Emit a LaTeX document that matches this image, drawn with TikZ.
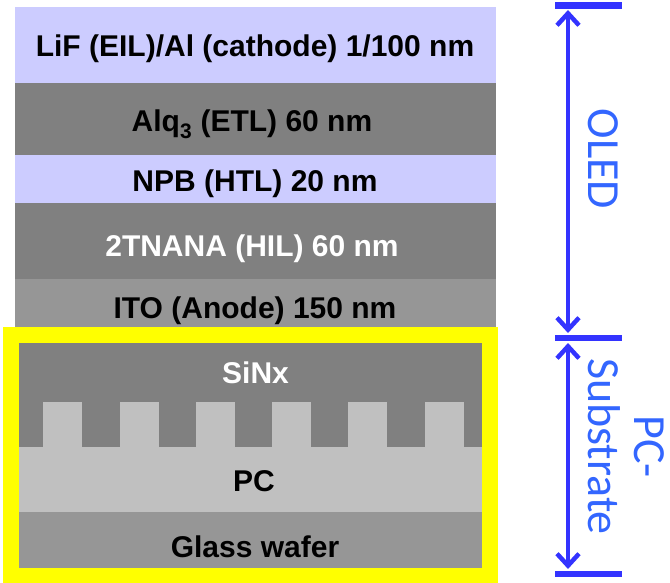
\documentclass[tikz,border=0pt]{standalone}
\usepackage{fontspec}
\setmainfont{Liberation Sans}
\newfontfamily\lblfont{Carlito}
\usetikzlibrary{arrows.meta}
\definecolor{lav}{RGB}{204,204,255}
\definecolor{dgray}{RGB}{128,128,128}
\definecolor{mgray}{RGB}{150,150,150}
\definecolor{lgray}{RGB}{192,192,192}
\definecolor{ylw}{RGB}{255,255,0}
\definecolor{dimblue}{RGB}{51,51,255}
\definecolor{txtblue}{RGB}{51,102,255}
\begin{document}
\begin{tikzpicture}[x=1pt,y=-1pt,
  layertext/.style={font=\fontsize{30}{36}\selectfont\bfseries, anchor=base, inner sep=0pt},
  dimbar/.style={draw=dimblue, line width=6.5pt},
  dimline/.style={draw=dimblue, line width=4.5pt,
    {Straight Barb[length=12pt,width=22pt]}-{Straight Barb[length=12pt,width=22pt]}},
  dimlabel/.style={text=txtblue, font=\lblfont\fontsize{46}{50}\selectfont, rotate=-90, anchor=base, inner sep=0pt}]
\useasboundingbox (0,0) rectangle (670,583);
\fill[white] (0,0) rectangle (670,583);
% OLED layers
\fill[lav]   (15,7)   rectangle (496,83);
\fill[dgray] (15,83)  rectangle (496,155);
\fill[lav]   (15,155) rectangle (496,203);
\fill[dgray] (15,203) rectangle (496,279);
\fill[mgray] (15,279) rectangle (496,336);
% substrate
\fill[dgray] (11,335) rectangle (489,447);
\foreach \x in {43,119.5,196,271.5,348,424.5}
  \fill[lgray] (\x,402) rectangle ++(39,45);
\fill[lgray] (11,447) rectangle (489,512);
\fill[mgray] (11,512) rectangle (489,576);
\draw[ylw, line width=16pt] (11,335) rectangle (489.5,576);
% layer labels
\node[layertext] (lif) at (255,57) {LiF (EIL)/Al (cathode) 1/100 nm};
\node[layertext] (alq) at (252,132) {Alq\textsubscript{3} (ETL) 60 nm};
\node[layertext] (npb) at (255,192) {NPB (HTL) 20 nm};
\node[layertext, text=white] (tnana) at (252,256) {2TNANA (HIL) 60 nm};
\node[layertext] (ito) at (255,318) {ITO (Anode) 150 nm};
\node[layertext, text=white] (sinx) at (255.5,383) {SiNx};
\node[layertext] (pc) at (254,491) {PC};
\node[layertext] (glass) at (255,557) {Glass wafer};
% dimension marks
\coordinate (tl) at (555,5.5);  \coordinate (tr) at (622,5.5);
\coordinate (ml) at (555,338);  \coordinate (mr) at (622,338);
\coordinate (bl) at (555,574);  \coordinate (br) at (622,574);
\coordinate (a1) at (568,10);   \coordinate (a2) at (568,333);
\coordinate (b1) at (568,343);  \coordinate (b2) at (568,569);
\draw[dimbar] (tl) -- (tr);
\draw[dimbar] (ml) -- (mr);
\draw[dimbar] (bl) -- (br);
\draw[dimline] (a1) -- (a2);
\draw[dimline] (b1) -- (b2);
\node[dimlabel] (oled) at (588,159) {OLED};
\node[dimlabel] (subs) at (588,446.5) {Substrate};
\node[dimlabel] (pcdash) at (634,446.5) {PC-};
\end{tikzpicture}
\end{document}
